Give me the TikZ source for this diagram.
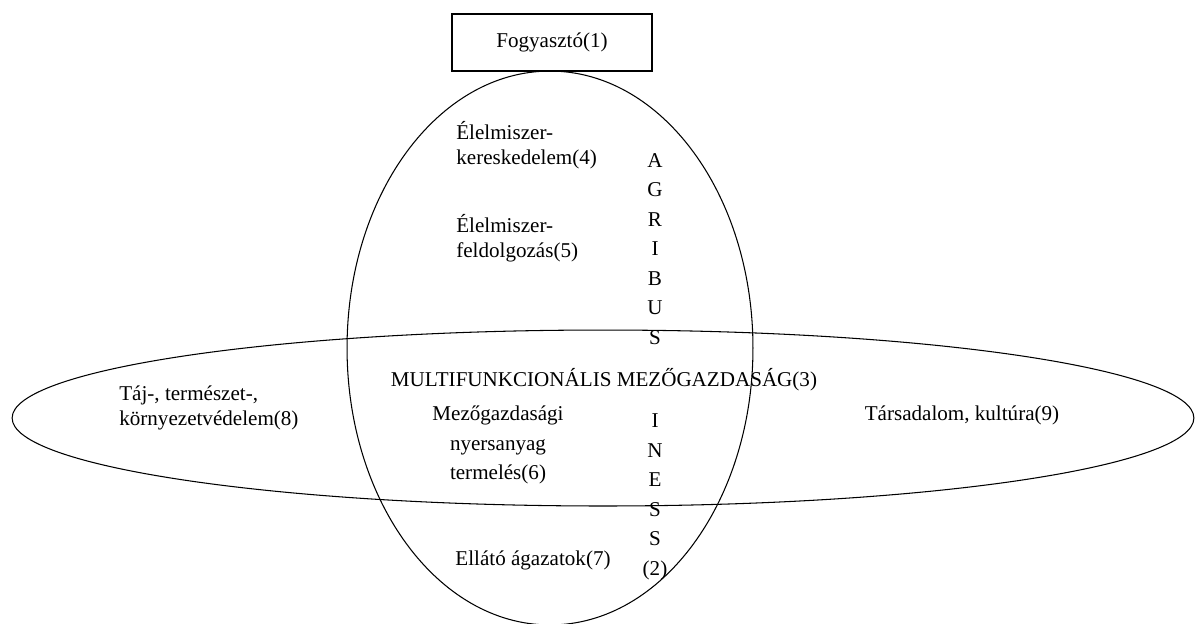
\documentclass[tikz,border=0pt]{standalone}
\usepackage{fontspec}
\setmainfont{Liberation Serif}
\usetikzlibrary{positioning}
\tikzset{
  label text/.style={inner sep=0pt, font=\fontsize{12}{14.2}\selectfont},
  letter col/.style={label text, align=center, font=\fontsize{12}{16.8}\selectfont},
  zone/.style={line width=0.6pt}
}
\begin{document}
\begin{tikzpicture}[x=0.02cm,y=-0.02cm]
    \useasboundingbox (0,0) rectangle (1195,623);

    % consumer box
    \node[draw, line width=1.1pt, minimum width=4cm, minimum height=1.14cm,
          label text, inner sep=0pt] (fogy) at (552,42.5) {Fogyasztó(1)};

    % agribusiness and multifunctional ellipses
    \draw[zone] (550,348) ellipse [x radius=4.06cm, y radius=5.54cm];
    \draw[zone] (603,418) ellipse [x radius=11.82cm, y radius=1.76cm];

    % labels of the vertical ellipse
    \node[label text, align=left, anchor=west] (keresk) at (456,145) {Élelmiszer-\\kereskedelem(4)};
    \node[label text, align=left, anchor=west] (feldolg) at (456,238) {Élelmiszer-\\feldolgozás(5)};
    \node[letter col] (agri) at (655,249) {A\\G\\R\\I\\B\\U\\S};
    \node[letter col] (iness) at (655,497) {I\\N\\E\\S\\S\\(2)};
    \node[label text, align=center, font=\fontsize{12}{16.8}\selectfont] (nyers) at (498,445) {Mezőgazdasági\\nyersanyag\\termelés(6)};
    \node[label text] (ellato) at (533,560) {Ellátó ágazatok(7)};

    % labels of the horizontal ellipse
    \node[label text] (multi) at (604,380) {MULTIFUNKCIONÁLIS MEZŐGAZDASÁG(3)};
    \node[label text, align=left, anchor=west] (taj) at (119,408) {Táj-, természet-,\\környezetvédelem(8)};
    \node[label text] (tars) at (962,415) {Társadalom, kultúra(9)};

\end{tikzpicture}
\end{document}
